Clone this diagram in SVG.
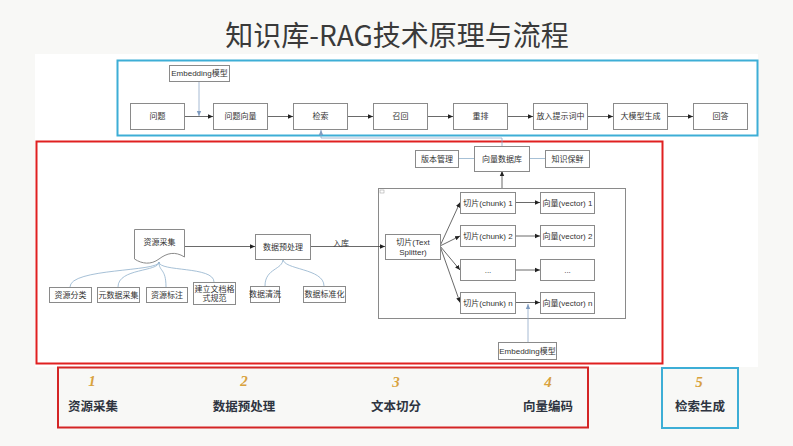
<svg xmlns="http://www.w3.org/2000/svg" width="793" height="446" viewBox="0 0 793 446">
<style>
.bx{fill:#fff;stroke:#8a8a8a;stroke-width:1}
.t{font-family:"Liberation Sans","Noto Sans CJK SC",sans-serif;font-size:8px;fill:#333;text-anchor:middle;dominant-baseline:central}
.ar{fill:none;stroke:#444;stroke-width:0.8;marker-end:url(#ah)}
.bl{fill:none;stroke:#8fb0cc;stroke-width:0.8}
.ba{fill:none;stroke:#8fa8c8;stroke-width:0.8;marker-end:url(#ahb)}
.num{font-family:"Liberation Serif",serif;font-style:italic;font-weight:bold;font-size:15px;fill:#d8a23e;text-anchor:middle}
.lab{font-family:"Noto Sans CJK SC",sans-serif;font-weight:bold;font-size:12.5px;fill:#2e3440;text-anchor:middle}
</style>
<defs>
<marker id="ah" markerWidth="6" markerHeight="6" refX="5" refY="3" orient="auto" markerUnits="userSpaceOnUse"><path d="M0,0.8 L5,3 L0,5.2 Z" fill="#222"/></marker>
<marker id="ahb" markerWidth="6" markerHeight="6" refX="5" refY="3" orient="auto" markerUnits="userSpaceOnUse"><path d="M0,0.8 L5,3 L0,5.2 Z" fill="#7f9cc0"/></marker>
</defs>
<rect x="0" y="0" width="793" height="446" fill="#f8f8f6"/>
<rect x="35" y="54" width="723" height="313" fill="#fff"/>
<text x="397" y="46" font-family="Noto Sans CJK SC,sans-serif" font-size="28" fill="#3a3a3a" text-anchor="middle">知识库-RAG技术原理与流程</text>

<rect x="117.5" y="60.5" width="640" height="75" fill="none" stroke="#3daed6" stroke-width="2"/>
<rect x="36.5" y="141.5" width="626" height="222" fill="none" stroke="#e02020" stroke-width="2"/>
<rect x="58" y="367.5" width="530" height="60" fill="none" stroke="#d42525" stroke-width="2"/>
<rect x="662" y="368" width="76" height="60" fill="none" stroke="#3daed6" stroke-width="2"/>

<g id="n-container"><rect class="bx" x="378.5" y="188.5" width="247" height="130"/><rect x="380" y="190" width="4" height="3" fill="#fff" stroke="#999" stroke-width="0.5"/></g>

<g id="connectors">
<path class="ar" d="M184,116.5 H213"/>
<path class="ba" d="M199,81 V116"/>
<path class="ar" d="M268,116.5 H293"/>
<path class="ar" d="M348,116.5 H373"/>
<path class="ar" d="M428,116.5 H453"/>
<path class="ar" d="M508,116.5 H533"/>
<path class="ar" d="M587,116.5 H613"/>
<path class="ar" d="M668,116.5 H693"/>
<path class="ba" d="M502,146 V138 H321 V130"/>
<path class="bl" d="M458,158.5 H474 M529,158.5 H545"/>
<path class="ar" d="M502,188 V171"/>
<path class="ar" d="M184,246.5 H255"/>
<path class="ar" d="M310,246.5 H385"/>
<path class="ar" d="M440,246 L460,202.5"/>
<path class="ar" d="M440,246 L460,236"/>
<path class="ar" d="M440,246 L460,270"/>
<path class="ar" d="M440,246 L460,302.5"/>
<path class="ar" d="M515,202.5 H540"/>
<path class="ar" d="M515,236 H540"/>
<path class="ar" d="M515,270 H540"/>
<path class="ar" d="M515,302.5 H540"/>
<path class="ba" d="M528,342 V304"/>
<path class="bl" d="M159,262 C159,272 70,268 70,287"/>
<path class="bl" d="M159,262 C159,272 118,268 118,287"/>
<path class="bl" d="M159,262 C159,272 166,268 166,287"/>
<path class="bl" d="M159,262 C159,272 214,266 214,282"/>
<path class="bl" d="M283,259 C283,270 265,268 265,286"/>
<path class="bl" d="M283,259 C283,270 324,268 324,286"/>
</g>

<g id="n-embed-top"><rect class="bx" x="169.5" y="65.5" width="60" height="16"/><text class="t" x="199.5" y="73.5">Embedding模型</text></g>
<g id="n-wenti"><rect class="bx" x="130.5" y="103.5" width="54" height="26"/><text class="t" x="157.5" y="116.5">问题</text></g>
<g id="n-wentixl"><rect class="bx" x="213.5" y="103.5" width="54" height="26"/><text class="t" x="240.5" y="116.5">问题向量</text></g>
<g id="n-jiansuo"><rect class="bx" x="293.5" y="103.5" width="54" height="26"/><text class="t" x="320.5" y="116.5">检索</text></g>
<g id="n-zhaohui"><rect class="bx" x="373.5" y="103.5" width="54" height="26"/><text class="t" x="400.5" y="116.5">召回</text></g>
<g id="n-chongpai"><rect class="bx" x="453.5" y="103.5" width="54" height="26"/><text class="t" x="480.5" y="116.5">重排</text></g>
<g id="n-fangru"><rect class="bx" x="533.5" y="103.5" width="54" height="26"/><text class="t" x="560.5" y="116.5">放入提示词中</text></g>
<g id="n-damoxing"><rect class="bx" x="613.5" y="103.5" width="54" height="26"/><text class="t" x="640.5" y="116.5">大模型生成</text></g>
<g id="n-huida"><rect class="bx" x="693.5" y="103.5" width="54" height="26"/><text class="t" x="720.5" y="116.5">回答</text></g>

<g id="n-banben"><rect class="bx" x="415.5" y="150.5" width="43" height="17"/><text class="t" x="437" y="159">版本管理</text></g>
<g id="n-xlsjk"><rect class="bx" x="474.5" y="146.5" width="55" height="25"/><text class="t" x="502" y="159">向量数据库</text></g>
<g id="n-zhishi"><rect class="bx" x="545.5" y="150.5" width="44" height="17"/><text class="t" x="567.5" y="159">知识保鲜</text></g>

<g id="n-splitter"><rect class="bx" x="385.5" y="234.5" width="55" height="25"/><text class="t" x="413" y="242">切片(Text</text><text class="t" x="413" y="252">Splitter)</text></g>
<g id="n-chunk1"><rect class="bx" x="460.5" y="192.5" width="55" height="21"/><text class="t" x="488" y="203">切片(chunk) 1</text></g>
<g id="n-chunk2"><rect class="bx" x="460.5" y="225.5" width="55" height="21"/><text class="t" x="488" y="236">切片(chunk) 2</text></g>
<g id="n-chunk3"><rect class="bx" x="460.5" y="259.5" width="55" height="21"/><text class="t" x="488" y="270">...</text></g>
<g id="n-chunkn"><rect class="bx" x="460.5" y="292.5" width="55" height="21"/><text class="t" x="488" y="303">切片(chunk) n</text></g>
<g id="n-vec1"><rect class="bx" x="540.5" y="192.5" width="54" height="21"/><text class="t" x="567.5" y="203">向量(vector) 1</text></g>
<g id="n-vec2"><rect class="bx" x="540.5" y="225.5" width="54" height="21"/><text class="t" x="567.5" y="236">向量(vector) 2</text></g>
<g id="n-vec3"><rect class="bx" x="540.5" y="259.5" width="54" height="21"/><text class="t" x="567.5" y="270">...</text></g>
<g id="n-vecn"><rect class="bx" x="540.5" y="292.5" width="54" height="21"/><text class="t" x="567.5" y="303">向量(vector) n</text></g>
<g id="n-embed-bot"><rect class="bx" x="498.5" y="342.5" width="58" height="17"/><text class="t" x="527.5" y="351">Embedding模型</text></g>

<g id="n-ziyuan"><path class="bx" d="M134.5,229.5 H184.5 V257 C175,251 167,253 159,259 C151,265 142,264 134.5,259 Z"/><text class="t" x="159.5" y="242">资源采集</text></g>
<g id="n-yuchuli"><rect class="bx" x="255.5" y="234.5" width="55" height="25"/><text class="t" x="283" y="247">数据预处理</text></g>
<text class="t" x="341" y="243" font-size="7">入库</text>
<g id="n-fenlei"><rect class="bx" x="49.5" y="287.5" width="42" height="15"/><text class="t" x="70.5" y="295">资源分类</text></g>
<g id="n-yuanshuju"><rect class="bx" x="97.5" y="287.5" width="42" height="15"/><text class="t" x="118.5" y="295">元数据采集</text></g>
<g id="n-biaozhu"><rect class="bx" x="146.5" y="287.5" width="41" height="15"/><text class="t" x="167" y="295">资源标注</text></g>
<g id="n-guifan"><rect class="bx" x="193.5" y="282.5" width="42" height="22"/><text class="t" x="214.5" y="289">建立文档格</text><text class="t" x="214.5" y="298">式规范</text></g>
<g id="n-qingxi"><rect class="bx" x="250.5" y="286.5" width="29" height="16"/><text class="t" x="265" y="294.5">数据清洗</text></g>
<g id="n-biaozhun"><rect class="bx" x="303.5" y="286.5" width="42" height="16"/><text class="t" x="324.5" y="294.5">数据标准化</text></g>

<g id="steps">
<text class="num" x="92" y="386">1</text><text class="lab" x="93" y="411">资源采集</text>
<text class="num" x="244" y="386">2</text><text class="lab" x="244" y="411">数据预处理</text>
<text class="num" x="396" y="387">3</text><text class="lab" x="396" y="411">文本切分</text>
<text class="num" x="548" y="387">4</text><text class="lab" x="548" y="411">向量编码</text>
<text class="num" x="699" y="387">5</text><text class="lab" x="700" y="411">检索生成</text>
</g>
</svg>
